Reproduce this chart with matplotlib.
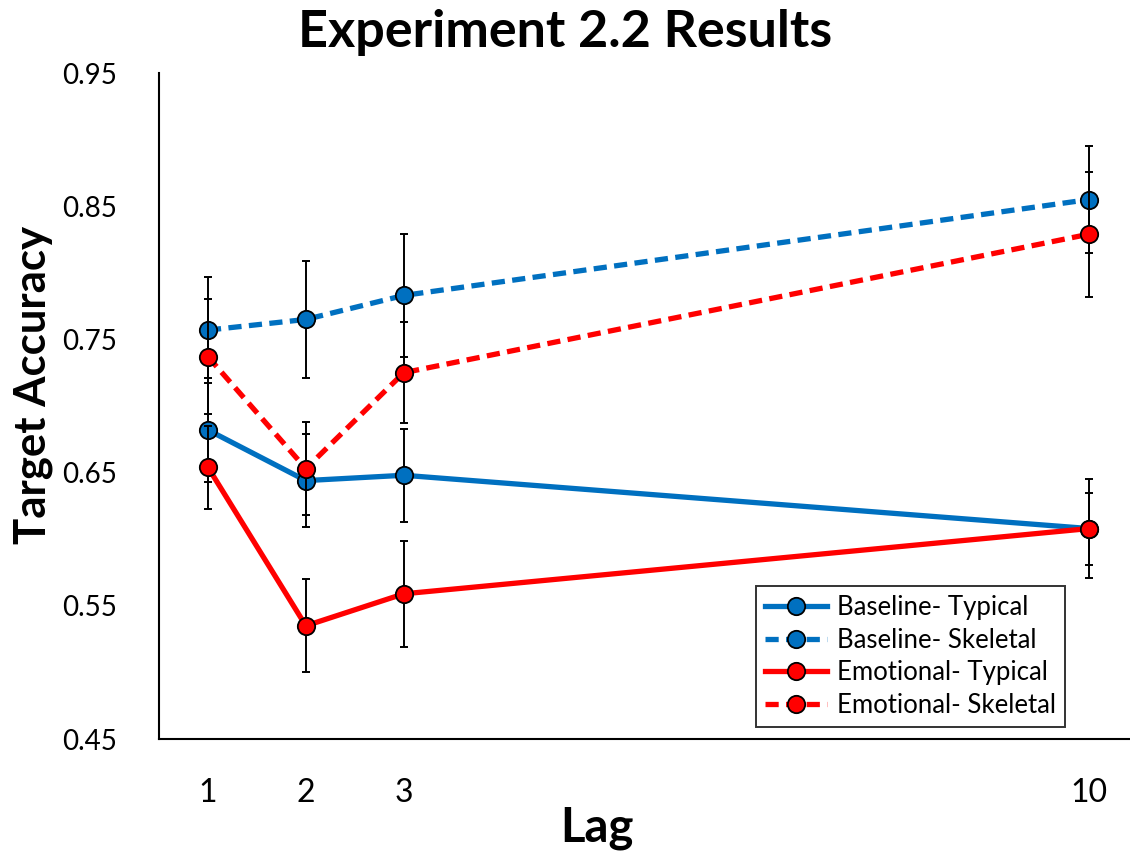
import matplotlib
matplotlib.use("Agg")
import matplotlib.pyplot as plt
import numpy as np

plt.rcParams['font.family'] = ['Lato', 'DejaVu Sans']

lags = [1, 2, 3, 10]
series_names = ["Baseline- Typical", "Baseline- Skeletal", "Emotional- Typical", "Emotional- Skeletal"]
baseline_typical = [0.682, 0.644, 0.648, 0.608]
baseline_skeletal = [0.757, 0.765, 0.783, 0.855]
emotional_typical = [0.654, 0.535, 0.559, 0.608]
emotional_skeletal = [0.737, 0.653, 0.725, 0.829]
err_baseline_typical = [0.039, 0.035, 0.035, 0.037]
err_baseline_skeletal = [0.040, 0.044, 0.046, 0.040]
err_emotional_typical = [0.031, 0.035, 0.040, 0.027]
err_emotional_skeletal = [0.043, 0.035, 0.038, 0.047]
yticks = [0.45, 0.55, 0.65, 0.75, 0.85, 0.95]
ytick_labels = ["0.45", "0.55", "0.65", "0.75", "0.85", "0.95"]
xtick_labels = ["1", "2", "3", "10"]

W, H = 1130, 851
fig = plt.figure(figsize=(W / 100, H / 100), dpi=100)
ax_left, ax_right, ax_top, ax_bottom = 159, 1138, 73, 739
ax = fig.add_axes([ax_left / W, 1 - ax_bottom / H, (ax_right - ax_left) / W, (ax_bottom - ax_top) / H])

blue = "#0070C0"
red = "#FF0000"
dash = (0, (2.5, 1.4))
styles = [
    (baseline_typical, err_baseline_typical, blue, '-'),
    (baseline_skeletal, err_baseline_skeletal, blue, dash),
    (emotional_typical, err_emotional_typical, red, '-'),
    (emotional_skeletal, err_emotional_skeletal, red, dash),
]

lw = 3.8
handles = []
for i, (vals, errs, col, ls) in enumerate(styles):
    ax.errorbar(lags, vals, yerr=errs, fmt='none', ecolor='black', elinewidth=1.4,
                capsize=3, capthick=1.4, zorder=2 + i * 3)
    ax.plot(lags, vals, color=col, linestyle=ls, linewidth=lw, zorder=3 + i * 3,
            solid_capstyle='butt', dash_capstyle='butt')
    ax.plot(lags, vals, linestyle='none', marker='o', markersize=12.5,
            markerfacecolor=col, markeredgecolor='black', markeredgewidth=1.3, zorder=4 + i * 3)
    h, = ax.plot([], [], color=col, linestyle=ls, linewidth=lw, marker='o', markersize=12.5,
                 markerfacecolor=col, markeredgecolor='black', markeredgewidth=1.3,
                 label=series_names[i])
    handles.append(h)

ax.set_xlim(0.5, 10.5)
ax.set_ylim(0.45, 0.95)
ax.set_yticks(yticks)
ax.set_yticklabels(ytick_labels, fontsize=20)
ax.set_xticks(lags)
ax.set_xticklabels(xtick_labels, fontsize=23)
ax.tick_params(axis='both', length=0)
ax.tick_params(axis='y', pad=30)
ax.tick_params(axis='x', pad=28)
for s in ['top', 'right']:
    ax.spines[s].set_visible(False)
for s in ['left', 'bottom']:
    ax.spines[s].set_linewidth(1.5)
    ax.spines[s].set_color('black')

leg = ax.legend(handles=handles, loc='upper left',
                bbox_to_anchor=((756 - ax_left) / (ax_right - ax_left), 1 - (586 - ax_top) / (ax_bottom - ax_top)),
                fontsize=18.5, frameon=True, fancybox=False, handlelength=2.4, handletextpad=0.4,
                borderpad=0.35, labelspacing=0.3, borderaxespad=0)
leg.get_frame().set_edgecolor('black')
leg.get_frame().set_linewidth(1.4)

fig.text(565 / W, 1 - 33 / H, "Experiment 2.2 Results", ha='center', va='center',
         fontsize=37.5, fontweight='bold')
fig.text(597 / W, 1 - 828 / H, "Lag", ha='center', va='center', fontsize=34, fontweight='bold')
fig.text(33 / W, 1 - 385 / H, "Target Accuracy", ha='center', va='center', rotation=90,
         fontsize=31.5, fontweight='bold')

fig.savefig("out.png", dpi=100)
